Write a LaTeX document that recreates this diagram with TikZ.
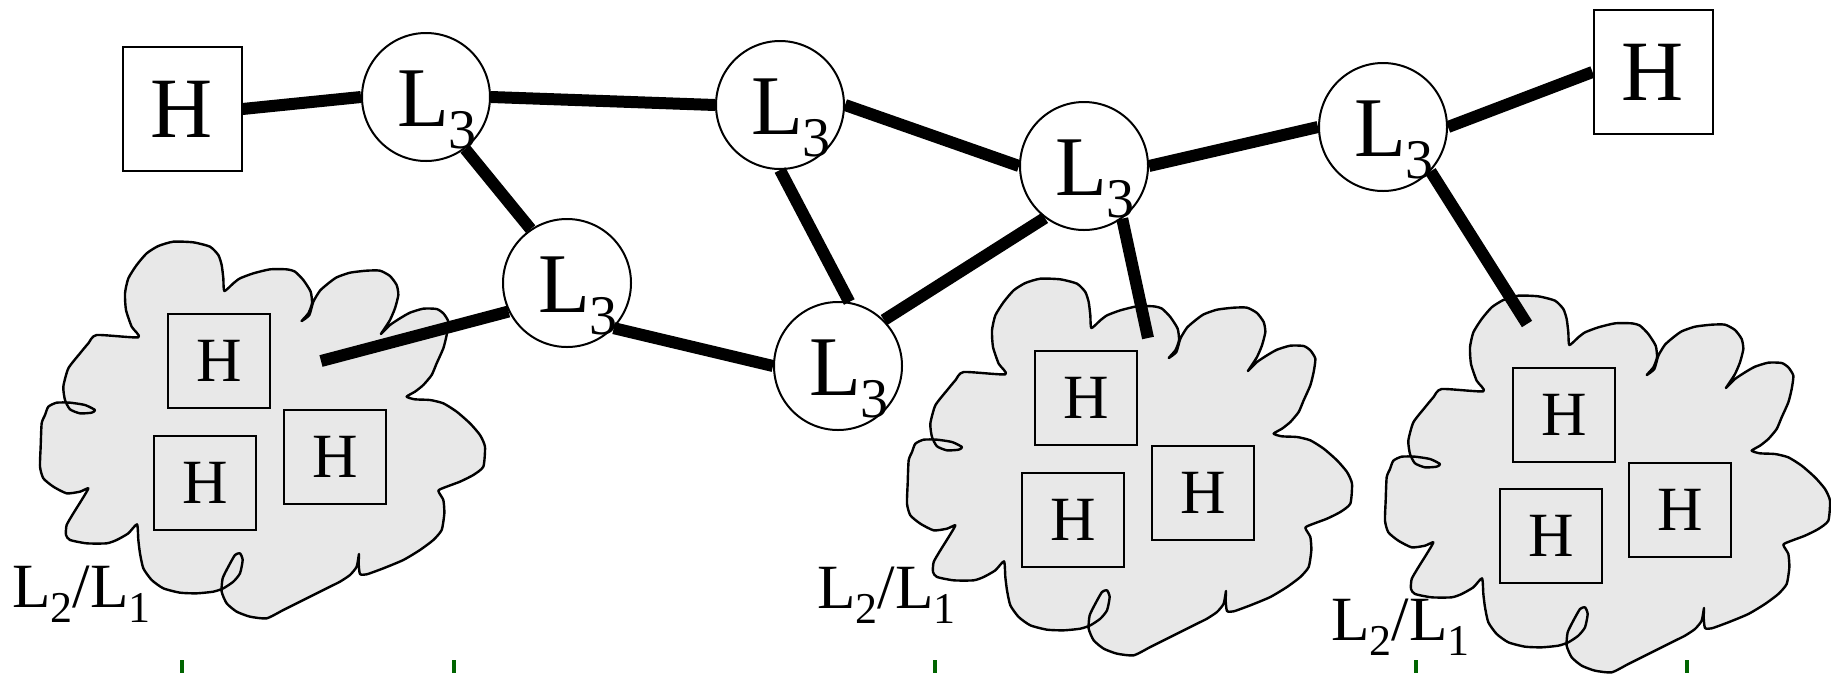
\documentclass[tikz,border=0pt]{standalone}
\usepackage{fontspec}
\setmainfont{Liberation Serif}
\definecolor{cloudgray}{RGB}{232,232,232}
\definecolor{tickgreen}{RGB}{0,100,0}
\newcommand{\LthreeTxt}{\rlap{\kern-29pt\raisebox{-29pt}[0pt][0pt]{\fontsize{85}{85}\selectfont L\raisebox{-22pt}{\fontsize{56}{56}\selectfont 3}}}}
\newcommand{\LtwoOne}{\fontsize{63}{63}\selectfont L\raisebox{-15pt}{\fontsize{44}{44}\selectfont 2}/L\raisebox{-15pt}{\fontsize{44}{44}\selectfont 1}}
\tikzset{
  cloudstyle/.style={fill=cloudgray, draw=black, line width=2.4pt, line join=round},
  cloudshape/.pic={
    \filldraw[cloudstyle, scale=1/3] plot[smooth cycle, tension=0.35] coordinates {
      (415,352) (395,320) (378,270) (375,220) (385,175) (410,135) (440,100) (475,78) (520,65) (580,67) (630,80) (655,105) (665,135) (670,175) (673,213)
      (700,190) (720,175) (760,160) (810,148) (860,148) (885,155) (910,180) (932,215) (936,250) (925,280) (905,303) (928,285) (940,245) (960,212)
      (985,190) (1010,172) (1050,158) (1100,152) (1140,152) (1170,168) (1190,195) (1195,225) (1185,265) (1170,300) (1152,328) (1143,342)
      (1170,315) (1200,295) (1230,278) (1270,266) (1310,267) (1330,280) (1345,305) (1340,345) (1330,385) (1310,430) (1295,465) (1270,495) (1245,515) (1220,530)
      (1245,538) (1290,540) (1330,550) (1370,575) (1410,610) (1440,645) (1455,680) (1450,740) (1420,765) (1380,785) (1340,800) (1315,812)
      (1330,840) (1333,880) (1325,930) (1300,960) (1260,990) (1210,1020) (1150,1045) (1100,1063) (1080,1062) (1076,1030) (1077,1002)
      (1070,1040) (1050,1065) (1020,1085) (990,1100) (940,1125) (890,1150) (850,1170) (800,1195) (750,1190) (710,1175) (680,1150) (665,1115) (668,1075) (685,1040) (705,1005) (720,1000) (728,1020) (720,1060) (700,1085) (670,1105) (640,1115) (590,1120) (540,1118) (490,1105) (455,1080) (430,1045) (420,1000) (415,960) (411,913)
      (385,940) (350,960) (320,970) (260,970) (210,960) (198,945) (200,915) (220,880) (245,840) (265,805)
      (240,815) (200,820) (160,800) (130,775) (120,740) (122,680) (125,610) (135,585) (145,560) (170,548) (210,548) (255,555) (285,570) (275,578) (240,580) (210,568) (195,540) (190,500) (205,445) (240,400) (265,370) (290,345)
    };
  },
  lnode/.style={circle, draw, fill=white, line width=2pt, minimum size=128pt, inner sep=0pt},
  hbig/.style={rectangle, draw, fill=white, line width=2pt, minimum width=119pt, minimum height=124pt, inner sep=0pt, font=\fontsize{86}{86}\selectfont},
  hsmall/.style={rectangle, draw, line width=2pt, minimum width=102pt, minimum height=94pt, inner sep=0pt, font=\fontsize{63}{63}\selectfont},
  lbl/.style={anchor=base west, inner sep=0pt},
  conn/.style={line width=12pt},
  tickmark/.style={tickgreen, line width=4pt}
}
\begin{document}
\begin{tikzpicture}[x=1pt, y=-1pt]
\useasboundingbox (0,0) rectangle (1831,673);
% clouds
\pic at (0,220) {cloudshape};
\pic at (867,257) {cloudshape};
\pic at (1345,274) {cloudshape};
% cloud labels
\node[lbl] (lab1) at (12,607) {\LtwoOne};
\node[lbl] (lab2) at (817,608) {\LtwoOne};
\node[lbl] (lab3) at (1331,640) {\LtwoOne};
% hosts in clouds
\node[hsmall] (h11) at (219,361) {H};
\node[hsmall] (h12) at (205,483) {H};
\node[hsmall] (h13) at (335,457) {H};
\node[hsmall] (h21) at (1086,398) {H};
\node[hsmall] (h22) at (1073,520) {H};
\node[hsmall] (h23) at (1203,493) {H};
\node[hsmall] (h31) at (1564,415) {H};
\node[hsmall] (h32) at (1551,536) {H};
\node[hsmall] (h33) at (1680,510) {H};
% top hosts and routers
\node[hbig] (H1) at (182,109) {H};
\node[hbig] (H2) at (1653,72) {H};
\node[lnode] (La) at (426,97) {\LthreeTxt};
\node[lnode] (Lb) at (780,105) {\LthreeTxt};
\node[lnode] (Lc) at (1084,166) {\LthreeTxt};
\node[lnode] (Ld) at (1383,127) {\LthreeTxt};
\node[lnode] (Le) at (567,283) {\LthreeTxt};
\node[lnode] (Lf) at (838,366) {\LthreeTxt};
% free ends inside clouds
\coordinate (c1end) at (321,361);
\coordinate (c2end) at (1148,338);
\coordinate (c3end) at (1527,324);
% connectors
\draw[conn] (H1.east) -- (La.west);
\draw[conn] (La.east) -- (Lb.west);
\draw[conn] (La.-53) -- (Le.124);
\draw[conn] (Lb.east) -- (Lc.west);
\draw[conn] (Lb.south) -- (Lf.80);
\draw[conn] (Lc.east) -- (Ld.west);
\draw[conn] (Ld.east) -- (H2.west);
\draw[conn] (Le.-44) -- (Lf.west);
\draw[conn] (Lf.45) -- (Lc.233);
\draw[conn] (Le.206) -- (c1end);
\draw[conn] (Lc.-54) -- (c2end);
\draw[conn] (Ld.-43) -- (c3end);
% green ticks
\draw[tickmark] (182,660) -- (182,673);
\draw[tickmark] (454,660) -- (454,673);
\draw[tickmark] (935,660) -- (935,673);
\draw[tickmark] (1416,660) -- (1416,673);
\draw[tickmark] (1687,660) -- (1687,673);
\end{tikzpicture}
\end{document}
